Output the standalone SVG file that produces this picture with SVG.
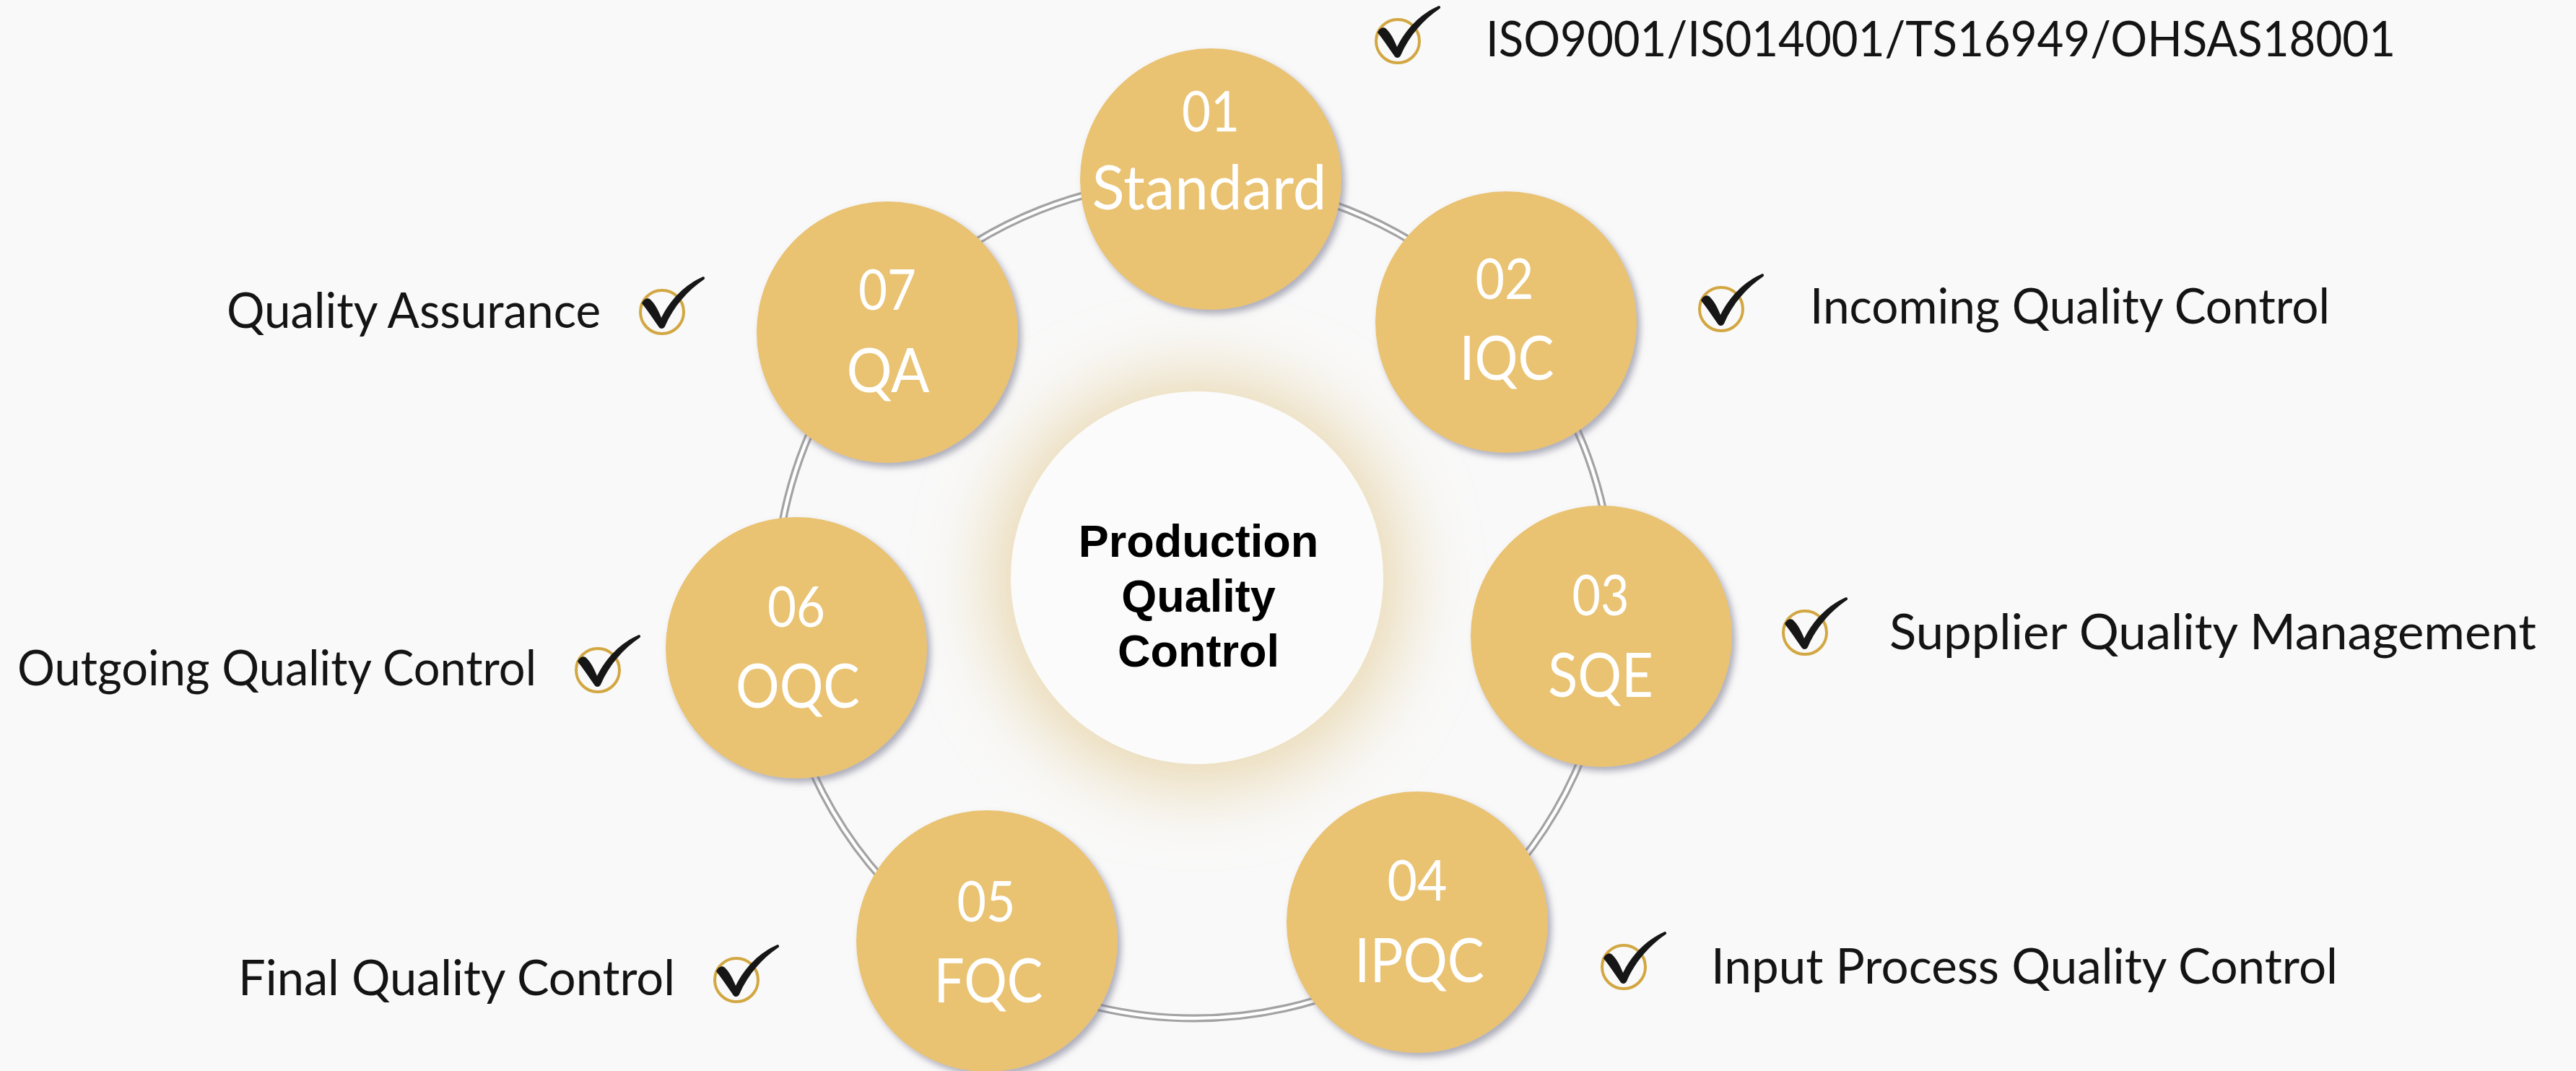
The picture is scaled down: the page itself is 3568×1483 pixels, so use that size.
<svg xmlns="http://www.w3.org/2000/svg" xmlns:xlink="http://www.w3.org/1999/xlink" width="3568" height="1483" viewBox="0 0 3568 1483">
  <style>
    .node { fill: #E9C272; filter: url(#shadow); }
    .num { font-family: Lato, "Open Sans", sans-serif; font-size: 77px; fill: #FFFFFF; text-anchor: middle; }
    .lbl { font-family: Lato, "Open Sans", sans-serif; font-size: 86px; fill: #FFFFFF; text-anchor: middle; }
    .desc { font-family: Lato, "Open Sans", sans-serif; font-size: 67px; fill: #141414; }
    .center { font-family: "Liberation Sans", Arial, sans-serif; font-size: 63px; font-weight: bold; fill: #000000; text-anchor: middle; }
    .chkc { fill: none; stroke: #D2A742; stroke-width: 4; }
    .chkp { fill: #161616; }
  </style>
  <defs>
    <filter id="shadow" x="-20%" y="-20%" width="140%" height="140%">
      <feDropShadow dx="5" dy="6" stdDeviation="5" flood-color="#707088" flood-opacity="0.55"/>
    </filter>
    <filter id="glow" x="-60%" y="-60%" width="220%" height="220%">
      <feGaussianBlur stdDeviation="50"/>
    </filter>
    <g id="chk">
      <circle class="chkc" cx="0" cy="0" r="30"/>
      <path class="chkp" d="M -28,-12 C -26,-17 -21,-20 -17,-18 C -10,-12 -5,-2 -1,8 C 12,-18 32,-38 57,-49 C 59,-49 60,-46 58,-45 C 36,-30 16,-8 4,20 C 2,24 -3,24 -5,20 C -12,10 -20,-2 -28,-12 Z"/>
    </g>
  </defs>

  <rect x="0" y="0" width="3568" height="1483" fill="#F9F9F9"/>

  <!-- soft glow around centre -->
  <circle cx="1658" cy="805" r="285" fill="#E9D8B0" filter="url(#glow)"/>

  <g id="connectors">
    <circle cx="1654" cy="830" r="580" fill="none" stroke="#A3A3A3" stroke-width="11"/>
    <circle cx="1654" cy="830" r="580" fill="none" stroke="#FFFFFF" stroke-width="4.5"/>
  </g>

  <g id="center">
    <circle cx="1658" cy="800" r="258" fill="#FBFBFB"/>
    <text class="center" x="1660" y="771">Production</text>
    <text class="center" x="1660" y="847">Quality</text>
    <text class="center" x="1660" y="923">Control</text>
  </g>

  <g id="node01">
    <circle class="node" cx="1677" cy="248" r="181"/>
    <text class="num" x="1677" y="182" textLength="80" lengthAdjust="spacingAndGlyphs">01</text>
    <text class="lbl" x="1675" y="290" textLength="325" lengthAdjust="spacingAndGlyphs">Standard</text>
  </g>
  <g id="node02">
    <circle class="node" cx="2086" cy="446" r="181"/>
    <text class="num" x="2084" y="414" textLength="81" lengthAdjust="spacingAndGlyphs">02</text>
    <text class="lbl" x="2087" y="526" textLength="131" lengthAdjust="spacingAndGlyphs">IQC</text>
  </g>
  <g id="node03">
    <circle class="node" cx="2218" cy="881" r="181"/>
    <text class="num" x="2217" y="852" textLength="79" lengthAdjust="spacingAndGlyphs">03</text>
    <text class="lbl" x="2217" y="965" textLength="146" lengthAdjust="spacingAndGlyphs">SQE</text>
  </g>
  <g id="node04">
    <circle class="node" cx="1963" cy="1277" r="181"/>
    <text class="num" x="1963" y="1247" textLength="83" lengthAdjust="spacingAndGlyphs">04</text>
    <text class="lbl" x="1966" y="1360" textLength="180" lengthAdjust="spacingAndGlyphs">IPQC</text>
  </g>
  <g id="node05">
    <circle class="node" cx="1367" cy="1303" r="181"/>
    <text class="num" x="1366" y="1276" textLength="81" lengthAdjust="spacingAndGlyphs">05</text>
    <text class="lbl" x="1369" y="1388" textLength="151" lengthAdjust="spacingAndGlyphs">FQC</text>
  </g>
  <g id="node06">
    <circle class="node" cx="1103" cy="897" r="181"/>
    <text class="num" x="1103" y="868" textLength="80" lengthAdjust="spacingAndGlyphs">06</text>
    <text class="lbl" x="1105" y="980" textLength="172" lengthAdjust="spacingAndGlyphs">OQC</text>
  </g>
  <g id="node07">
    <circle class="node" cx="1229" cy="460" r="181"/>
    <text class="num" x="1229" y="429" textLength="80" lengthAdjust="spacingAndGlyphs">07</text>
    <text class="lbl" x="1230" y="543" textLength="115" lengthAdjust="spacingAndGlyphs">QA</text>
  </g>

  <g id="label-standard">
    <use xlink:href="#chk" href="#chk" x="1936" y="57"/>
    <text class="desc" x="2058" y="78" textLength="1260" lengthAdjust="spacingAndGlyphs">ISO9001/IS014001/TS16949/OHSAS18001</text>
  </g>
  <g id="label-iqc">
    <use xlink:href="#chk" href="#chk" x="2384" y="428"/>
    <text class="desc" x="2507" y="448" textLength="720" lengthAdjust="spacingAndGlyphs">Incoming Quality Control</text>
  </g>
  <g id="label-sqe">
    <use xlink:href="#chk" href="#chk" x="2500" y="876"/>
    <text class="desc" x="2617" y="899" textLength="896" lengthAdjust="spacingAndGlyphs">Supplier Quality Management</text>
  </g>
  <g id="label-ipqc">
    <use xlink:href="#chk" href="#chk" x="2249" y="1339"/>
    <text class="desc" x="2370" y="1362" textLength="868" lengthAdjust="spacingAndGlyphs">Input Process Quality Control</text>
  </g>
  <g id="label-qa">
    <use xlink:href="#chk" href="#chk" x="917" y="432"/>
    <text class="desc" x="314" y="454" textLength="518" lengthAdjust="spacingAndGlyphs">Quality Assurance</text>
  </g>
  <g id="label-oqc">
    <use xlink:href="#chk" href="#chk" x="828" y="928"/>
    <text class="desc" x="24" y="949" textLength="719" lengthAdjust="spacingAndGlyphs">Outgoing Quality Control</text>
  </g>
  <g id="label-fqc">
    <use xlink:href="#chk" href="#chk" x="1020" y="1357"/>
    <text class="desc" x="330" y="1378" textLength="605" lengthAdjust="spacingAndGlyphs">Final Quality Control</text>
  </g>
</svg>
